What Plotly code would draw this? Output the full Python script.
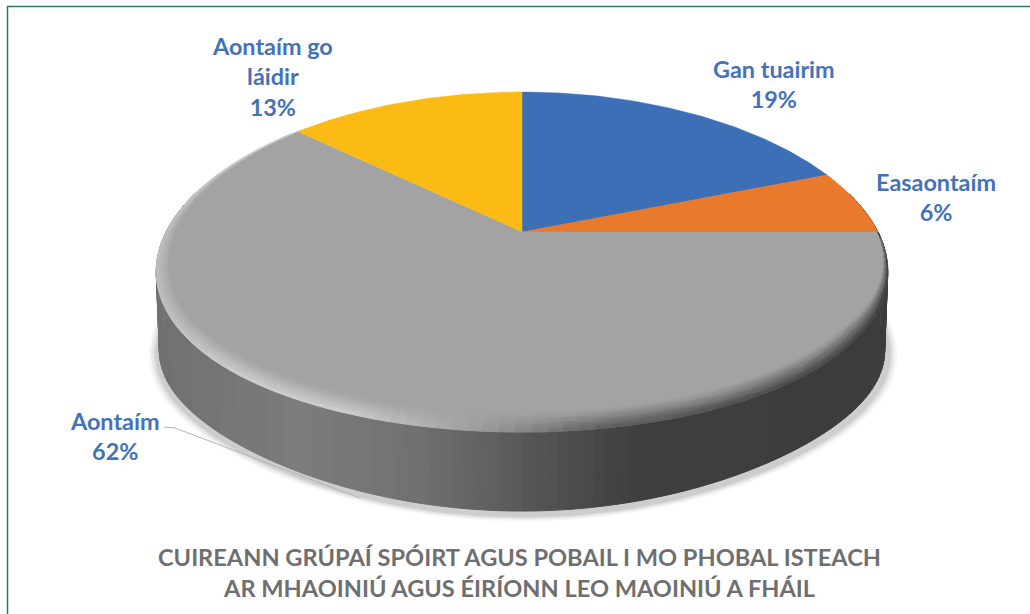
import numpy as np
import plotly.graph_objects as go

# ---- data ----
categories = ["Gan tuairim", "Easaontaím", "Aontaím", "Aontaím go<br>láidir"]
values = [19, 6, 62, 13]
slice_colors = ["#3d6fb6", "#e9792b", "#a3a3a3", "#fbbb14"]
label_x = [774, 936, 115, 272]
label_y = [84, 197, 436, 76]
title_lines = ["CUIREANN GRÚPAÍ SPÓIRT AGUS POBAIL I MO PHOBAL ISTEACH",
               "AR MHAOINIÚ AGUS ÉIRÍONN LEO MAOINIÚ A FHÁIL"]

# ---- perspective projection of the disc, in page pixels ----
CX, CY, A, B, P, Q = 522.0, 232.0, 356.0, 164.7, 0.1765, 0.23
DEPTH = 81.0
BOTTOM_TUCK = 9.0


def project(theta, su=1.0, sv=1.0, dy=0.0):
    u, v = su * np.sin(theta), sv * np.cos(theta)
    return CX + A * u / (1 + Q * v), CY - B * v / (1 + P * v) + dy


def bottom_rim(theta, grow=1.0, extra=0.0):
    # lower edge of the wall sits a little tighter on the front diagonals
    tuck = BOTTOM_TUCK * np.sin(2 * theta) ** 2 * (np.cos(theta) < 0)
    return project(theta, grow, grow, DEPTH + extra - tuck)


def lerp_stops(x, xs, cs):
    return float(np.interp(x, xs, cs))


def grey(c):
    c = int(round(c / 2.0) * 2)
    return f"rgb({c},{c},{c})"


fig = go.Figure()


def add_polys(polys):
    for color, (xs, ys) in polys.items():
        fig.add_trace(go.Scatter(x=xs, y=ys, mode="lines", fill="toself", fillcolor=color,
                                 line=dict(color=color, width=1), hoverinfo="skip", showlegend=False))


# soft shadow beneath the wall
t_full = np.radians(np.linspace(0, 360, 181))
for i, (grow, alpha) in enumerate([(1.022, 0.05), (1.016, 0.07), (1.010, 0.09), (1.005, 0.12)]):
    sx, sy = bottom_rim(t_full, grow, 3)
    fig.add_trace(go.Scatter(x=sx + 1, y=sy, mode="lines", fill="toself", fillcolor=f"rgba(90,90,90,{alpha})",
                             line=dict(width=0), hoverinfo="skip", showlegend=False))

# side wall, with a left-to-right gradient
wall_x = [156, 300, 420, 522, 640, 890]
wall_c = [112, 124, 112, 88, 62, 60]
wall = {}
edges = np.radians(np.linspace(76, 284, 141))
for a, b in zip(edges[:-1], edges[1:]):
    xa, ya = project(a)
    xb, yb = project(b)
    xc, yc = bottom_rim(b, 0.992)
    xd, yd = bottom_rim(a, 0.992)
    col = grey(lerp_stops((xa + xb) / 2, wall_x, wall_c))
    xs, ys = wall.setdefault(col, ([], []))
    xs += [xa, xb, xc, xd, xa, None]
    ys += [ya, yb, yc, yd, ya, None]
add_polys(wall)

# pie slices on the top face
start = 0.0
total = sum(values)
for val, color in zip(values, slice_colors):
    end = start + val / total * 2 * np.pi
    th = np.linspace(start, end, max(int(val * 4), 12))
    rx, ry = project(th)
    fig.add_trace(go.Scatter(x=[CX, *rx, CX], y=[CY, *ry, CY], mode="lines", fill="toself",
                             fillcolor=color, line=dict(color=color, width=0.5),
                             hoverinfo="skip", showlegend=False))
    start = end

# bevel along the front rim of the top face
edge_x = [156, 230, 350, 470, 600, 890]
edge_c = [190, 206, 206, 160, 92, 62]
bevel = {}
bands = np.linspace(0, 1, 10)
steps = np.radians(np.linspace(90, 312, 111))
for a, b in zip(steps[:-1], steps[1:]):
    m = (a + b) / 2
    deg = np.degrees(m)
    wt = min(1.0, (deg - 90) / 35, (312 - deg) / 50)
    for t0, t1 in zip(bands[:-1], bands[1:]):
        s = lambda t, k: 1 - k * wt * (1 - t)
        xa, ya = project(a, s(t0, 0.032), s(t0, 0.08))
        xb, yb = project(b, s(t0, 0.032), s(t0, 0.08))
        xc, yc = project(b, s(t1, 0.032), s(t1, 0.08))
        xd, yd = project(a, s(t1, 0.032), s(t1, 0.08))
        mx = (xa + xb) / 2
        target = lerp_stops(mx, edge_x, edge_c)
        col = grey(163 + (target - 163) * (t0 + t1) / 2)
        xs, ys = bevel.setdefault(col, ([], []))
        xs += [xa, xb, xc, xd, xa, None]
        ys += [ya, yb, yc, yd, ya, None]
add_polys(bevel)

# leader line for the "Aontaím" label
fig.add_trace(go.Scatter(x=[164, 175, 360], y=[427, 428, 498], mode="lines",
                         line=dict(color="#b4b4b4", width=1), hoverinfo="skip", showlegend=False))

# data labels
for name, val, lx, ly in zip(categories, values, label_x, label_y):
    fig.add_annotation(x=lx, y=ly, text=f"<b>{name}<br>{val}%</b>", showarrow=False,
                       xanchor="center", yanchor="middle", align="center",
                       font=dict(family="Lato", size=23.4, color="#4472b8"))

# caption
for line, ty in zip(title_lines, [557, 588]):
    fig.add_annotation(x=519, y=ty, text=f"<b>{line}</b>", showarrow=False,
                       xanchor="center", yanchor="middle",
                       font=dict(family="Lato", size=23.6, color="#6f6f6f"))

# page frame: left and top rules only
fig.add_shape(type="line", x0=7.5, x1=7.5, y0=6.5, y1=614, line=dict(color="#1f7a70", width=1.5))
fig.add_shape(type="line", x0=7, x1=1030, y0=6.5, y1=6.5, line=dict(color="#1f7a70", width=1.5))

fig.update_layout(width=1030, height=614, margin=dict(l=0, r=0, t=0, b=0), autosize=False,
                  paper_bgcolor="white", plot_bgcolor="white", showlegend=False,
                  xaxis=dict(range=[0, 1030], visible=False, fixedrange=True),
                  yaxis=dict(range=[614, 0], visible=False, fixedrange=True))
fig.write_html("out.html", config={"displayModeBar": False},
               post_script="document.body.style.margin='0';document.body.style.overflow='hidden';")
